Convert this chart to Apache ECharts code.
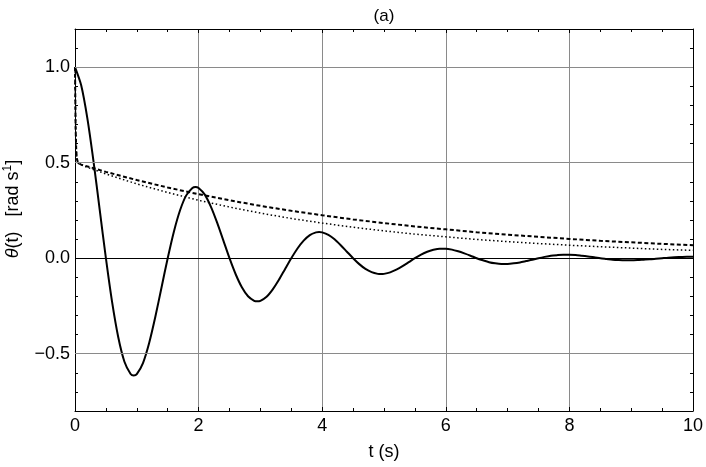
<!DOCTYPE html>
<html>
<head>
<meta charset="utf-8">
<script src="https://cdn.jsdelivr.net/npm/echarts@6/dist/echarts.min.js"></script>
<style>html,body{margin:0;padding:0;background:#fff;}#c{width:706px;height:467px;}</style>
</head>
<body>
<div id="c"></div>
<script>
// time grid for the oscillating curve (s)
var tSolid = [0.0,0.1,0.2,0.3,0.4,0.5,0.6,0.7,0.8,0.9,0.95,1.0,1.1,1.2,1.3,1.4,1.5,1.6,1.7,1.8,1.9,1.95,
  2.0,2.1,2.2,2.3,2.4,2.5,2.6,2.7,2.8,2.9,2.95,3.0,3.1,3.2,3.3,3.4,3.5,3.6,3.7,3.8,3.9,3.95,
  4.0,4.1,4.2,4.3,4.4,4.5,4.6,4.7,4.8,4.9,4.95,5.0,5.1,5.2,5.3,5.4,5.5,5.6,5.7,5.8,5.9,
  6.0,6.1,6.2,6.3,6.4,6.5,6.6,6.7,6.8,6.9,7.0,7.1,7.2,7.3,7.4,7.5,7.6,7.7,7.8,7.9,
  8.0,8.1,8.2,8.3,8.4,8.5,8.6,8.7,8.8,8.9,9.0,9.1,9.2,9.3,9.4,9.5,9.6,9.7,9.8,9.9,10.0];
var solidValues = [1.000,0.905,0.732,0.506,0.253,0.000,-0.229,-0.414,-0.542,-0.606,-0.614,-0.607,-0.549,-0.444,-0.307,-0.153,0.000,0.139,0.251,0.329,0.368,0.373,
  0.368,0.333,0.269,0.186,0.093,0.000,-0.084,-0.152,-0.199,-0.223,-0.226,-0.223,-0.202,-0.163,-0.113,-0.056,0.000,0.051,0.092,0.121,0.135,0.137,
  0.135,0.122,0.099,0.068,0.034,0.000,-0.031,-0.056,-0.073,-0.082,-0.083,-0.082,-0.074,-0.060,-0.042,-0.021,0.000,0.019,0.034,0.044,0.050,
  0.050,0.045,0.036,0.025,0.013,0.000,-0.011,-0.021,-0.027,-0.030,-0.030,-0.027,-0.022,-0.015,-0.008,0.000,0.007,0.013,0.016,0.018,
  0.018,0.017,0.013,0.009,0.005,0.000,-0.004,-0.008,-0.010,-0.011,-0.011,-0.010,-0.008,-0.006,-0.003,0.000,0.003,0.005,0.006,0.007,0.007];
// time grid for the two decaying curves (s)
var tDecay = [0,0.01,0.02,0.03,0.05,0.1,0.25,0.5,1.0,1.5,2.0,2.5,3.0,3.5,4.0,4.5,5.0,5.5,6.0,6.5,7.0,7.5,8.0,8.5,9.0,9.5,10.0];
var dashedValues = [1.0,0.683,0.566,0.522,0.498,0.490,0.476,0.452,0.409,0.370,0.335,0.303,0.274,0.248,0.225,0.203,0.184,0.166,0.151,0.136,0.123,0.112,0.101,0.091,0.083,0.075,0.068];
var dottedValues = [1.0,0.683,0.566,0.521,0.497,0.488,0.470,0.441,0.389,0.344,0.303,0.268,0.236,0.208,0.184,0.162,0.143,0.126,0.112,0.098,0.087,0.077,0.068,0.060,0.053,0.046,0.041];
// horizontal grid lines
var yGridValues = [-0.5, 0.5, 1.0];
var yZero = 0;

function pairs(xs, ys){ return xs.map(function(x,i){ return [x, ys[i]]; }); }

var FONT = 'Liberation Sans, Arial, sans-serif';
var chart = echarts.init(document.getElementById('c'), null, {renderer:'canvas'});

function yAxisCfg(pos, showLabel){
  return {
    type:'value', position:pos, min:-0.8, max:1.2, interval:0.1,
    axisLine:{show:true, onZero:false, lineStyle:{color:'#000', width:1}},
    axisTick:{show:true, inside:true, length:3, lineStyle:{color:'#000'}},
    splitLine:{show:false},
    axisLabel:{show:showLabel, margin:5, color:'#000', fontSize:18, fontFamily:FONT,
      formatter:function(v){
        var k = Math.round(v*2);
        if (Math.abs(v*2 - k) > 1e-6) return '';
        var s = (Math.abs(k/2)).toFixed(1);
        return (k < 0 ? '\u2212' : '') + s;
      }}
  };
}
function xAxisCfg(pos, showLabel, split){
  return {
    type:'value', position:pos, min:0, max:10, interval:2,
    axisLine:{show:true, onZero:false, lineStyle:{color:'#000', width:1}},
    axisTick:{show:true, inside:true, length:4, lineStyle:{color:'#000'}},
    minorTick:{show:true, splitNumber:4, length:3, lineStyle:{color:'#000'}},
    splitLine:{show:split, lineStyle:{color:'#8a8a8a', width:1}},
    axisLabel:{show:showLabel, margin:6, color:'#000', fontSize:18, fontFamily:FONT}
  };
}

var gridMarks = yGridValues.map(function(v){ return {yAxis:v, lineStyle:{color:'#8a8a8a', width:1, type:'solid'}}; });
gridMarks.push({yAxis:yZero, lineStyle:{color:'#000', width:1, type:'solid'}});

chart.setOption({
  animation:false,
  backgroundColor:'#fff',
  grid:{left:75, right:12, top:29, bottom:56, containLabel:false},
  xAxis:[xAxisCfg('bottom', true, true), xAxisCfg('top', false, false)],
  yAxis:[yAxisCfg('left', true), yAxisCfg('right', false)],
  graphic:[
    {type:'text', x:384, y:16, style:{text:'(a)', font:'17px '+FONT, fill:'#000', textAlign:'center', textVerticalAlign:'middle'}},
    {type:'text', x:384, y:452, style:{text:'t (s)', font:'18px '+FONT, fill:'#000', textAlign:'center', textVerticalAlign:'middle'}},
    {type:'text', x:13, y:209, rotation:Math.PI/2, style:{
      text:'{it|\u03b8}(t)   [rad s{sup|1}]',
      font:'18px '+FONT, fill:'#000', textAlign:'center', textVerticalAlign:'middle',
      rich:{
        it:{fontStyle:'italic', fontSize:18, fontFamily:FONT, fill:'#000'},
        sup:{fontSize:12, fontFamily:FONT, fill:'#000', verticalAlign:'top', padding:[0,0,10,0]}
      }}}
  ],
  series:[
    {type:'line', z:1, data:[], silent:true, showSymbol:false,
      markLine:{silent:true, symbol:['none','none'], label:{show:false}, animation:false, data:gridMarks}},
    {type:'line', z:3, data:pairs(tDecay, dottedValues), showSymbol:false, smooth:false,
      lineStyle:{color:'#000', width:1.5, type:[1.5,2.5]}},
    {type:'line', z:3, data:pairs(tDecay, dashedValues), showSymbol:false, smooth:false,
      lineStyle:{color:'#000', width:2, type:[4,2.5]}},
    {type:'line', z:4, data:pairs(tSolid, solidValues), showSymbol:false, smooth:0.25,
      lineStyle:{color:'#000', width:2, join:'round'}}
  ]
});
</script>
</body>
</html>
